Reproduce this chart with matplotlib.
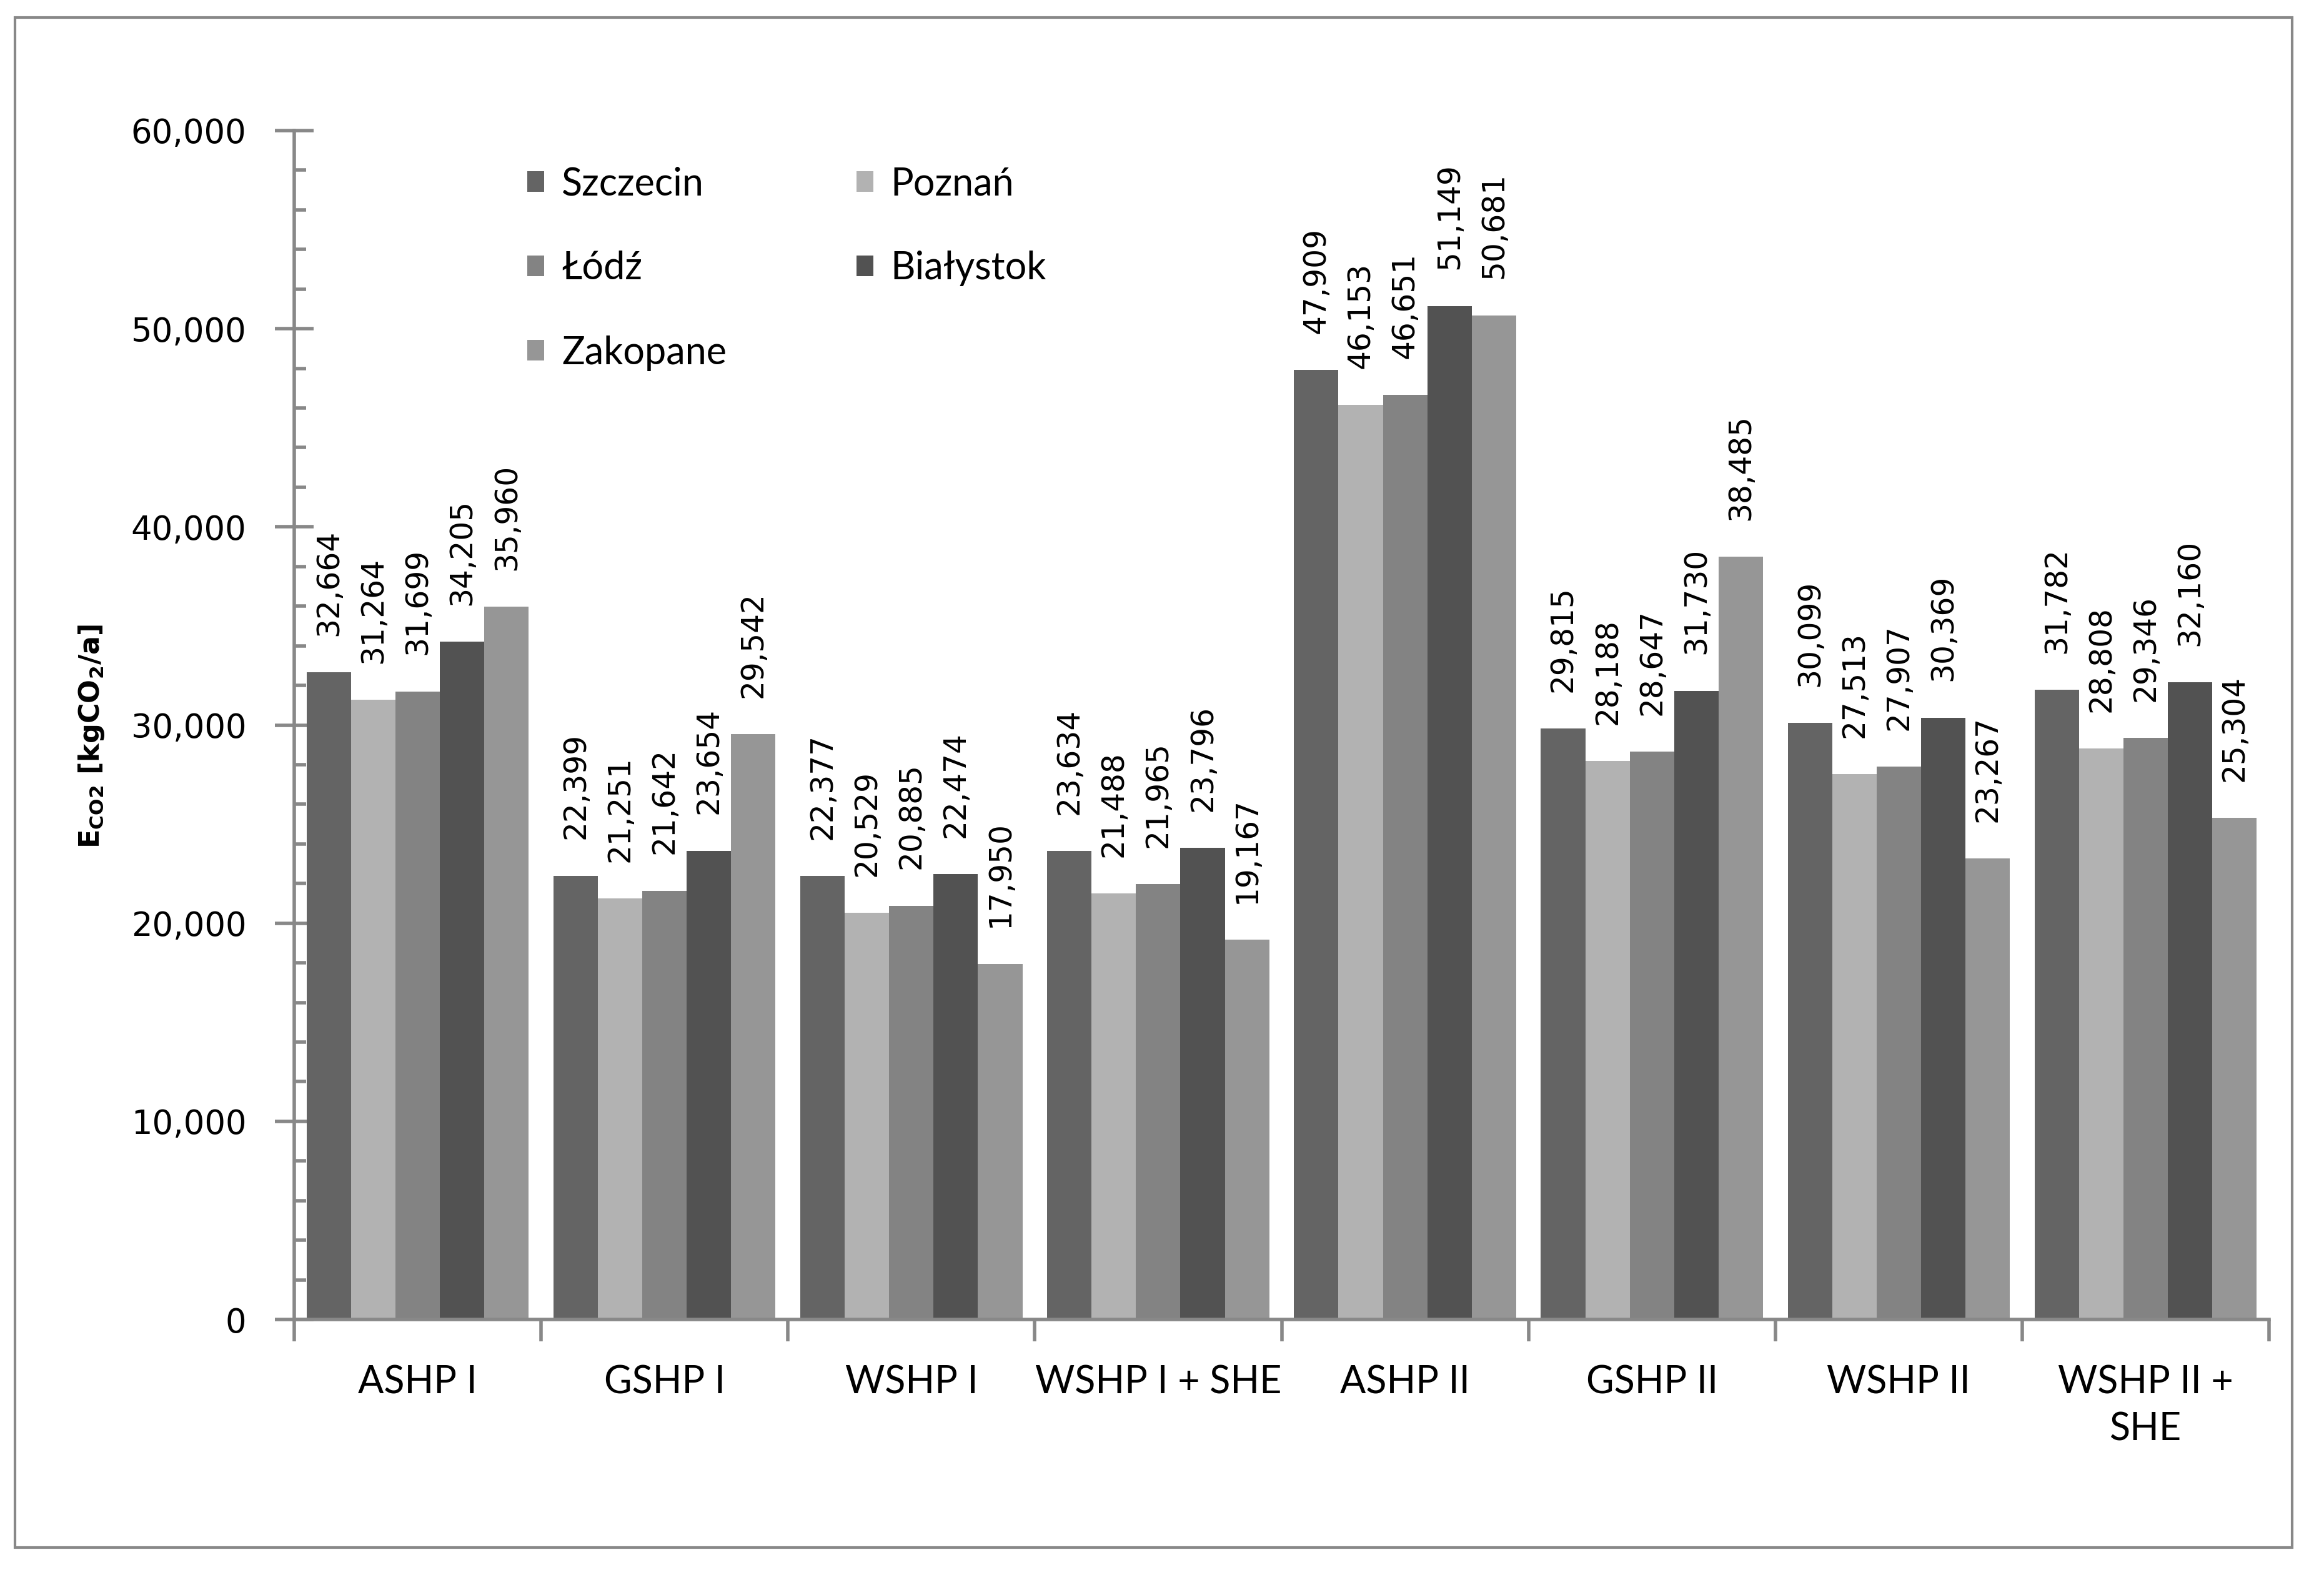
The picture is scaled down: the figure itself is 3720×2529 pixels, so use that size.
import matplotlib
matplotlib.use("Agg")
import matplotlib.pyplot as plt
import matplotlib.patches as patches
from matplotlib.ticker import MultipleLocator, FuncFormatter, FixedLocator, NullFormatter
import numpy as np

categories = ["ASHP I", "GSHP I", "WSHP I", "WSHP I + SHE", "ASHP II", "GSHP II", "WSHP II", "WSHP II +\nSHE"]
cities = ["Szczecin", "Poznań", "Łódź", "Białystok", "Zakopane"]
szczecin = [32664, 22399, 22377, 23634, 47909, 29815, 30099, 31782]
poznan = [31264, 21251, 20529, 21488, 46153, 28188, 27513, 28808]
lodz = [31699, 21642, 20885, 21965, 46651, 28647, 27907, 29346]
bialystok = [34205, 23654, 22474, 23796, 51149, 31730, 30369, 32160]
zakopane = [35960, 29542, 17950, 19167, 50681, 38485, 23267, 25304]
series = [szczecin, poznan, lodz, bialystok, zakopane]
colors = ["#646464", "#b2b2b2", "#838383", "#525252", "#969696"]

AX = "#888888"
W, H = 3720, 2529
fig = plt.figure(figsize=(W / 100, H / 100), dpi=100)
ax = fig.add_axes([471 / W, 1 - 2112 / H, (3632 - 471) / W, (2112 - 209) / H])

x = np.arange(len(categories))
bw = 0.18
handles = []
for i, (vals, c, name) in enumerate(zip(series, colors, cities)):
    pos = x + (i - 2) * bw
    bars = ax.bar(pos, vals, width=bw, color=c, label=name, zorder=2)
    handles.append(bars)
    for xp, v in zip(pos, vals):
        ax.annotate(f"{v:,}", xy=(xp, v), xytext=(0, 42), textcoords="offset points",
                    rotation=90, ha="center", va="bottom", fontsize=35,
                    family="DejaVu Sans", color="black")

ax.set_xlim(-0.5, len(categories) - 0.5)
ax.set_ylim(0, 60000)

for s in ["top", "right"]:
    ax.spines[s].set_visible(False)
for s in ["left", "bottom"]:
    ax.spines[s].set_color(AX)
    ax.spines[s].set_linewidth(4)

ax.yaxis.set_major_locator(MultipleLocator(10000))
ax.yaxis.set_minor_locator(MultipleLocator(2000))
ax.yaxis.set_major_formatter(FuncFormatter(lambda v, p: f"{int(v):,}"))
ax.tick_params(axis="y", which="major", direction="inout", length=44, width=4, color=AX,
               labelsize=38, pad=33)
ax.tick_params(axis="y", which="minor", direction="in", length=14, width=4, color=AX)
for t in ax.get_yticklabels():
    t.set_family("DejaVu Sans")

ax.xaxis.set_major_locator(FixedLocator(np.arange(-0.5, len(categories), 1.0)))
ax.xaxis.set_major_formatter(NullFormatter())
ax.xaxis.set_minor_locator(FixedLocator(x))
ax.set_xticks(x, categories, minor=True)
ax.tick_params(axis="x", which="major", direction="out", length=25, width=4, color=AX)
ax.tick_params(axis="x", which="minor", length=0, labelsize=44, pad=52)
for t in ax.get_xticklabels(minor=True):
    t.set_family("Lato")
    t.set_linespacing(1.4)

order = [0, 2, 4, 1, 3]
leg = ax.legend([handles[k] for k in order], [cities[k] for k in order], ncol=2,
                loc="upper left", bbox_to_anchor=(0.118, 0.970), frameon=False,
                borderpad=0, borderaxespad=0, handlelength=0.45, handleheight=0.45,
                handletextpad=0.45, labelspacing=1.28, columnspacing=3.4,
                prop={"family": "Lato", "size": 44})

fig.text(147 / W, 1 - 1179 / H, r"E$_{\mathbf{CO2}}$ [kgCO$_{\mathbf{2}}$/a]", rotation=90,
         ha="center", va="center", fontsize=32, fontweight="bold", family="DejaVu Sans")

fig.patches.append(patches.Rectangle((24 / W, 1 - 2477 / H), (3669 - 24) / W, (2477 - 28) / H,
                                     transform=fig.transFigure, fill=False, edgecolor=AX,
                                     linewidth=3))

fig.savefig("out.png", dpi=100, facecolor="white")
